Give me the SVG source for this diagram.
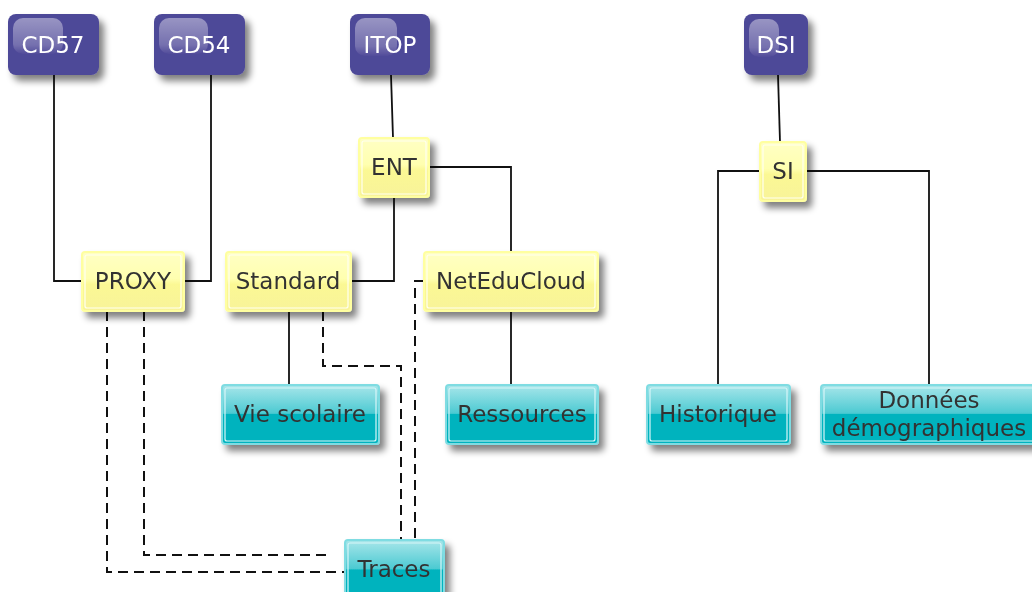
<svg xmlns="http://www.w3.org/2000/svg" width="1032" height="592" viewBox="0 0 1032 592">
<defs>
<filter id="sh" x="-20%" y="-20%" width="150%" height="160%">
<feGaussianBlur in="SourceAlpha" stdDeviation="3.5"/>
<feOffset dx="5" dy="6" result="b"/>
<feComponentTransfer><feFuncA type="linear" slope="0.5"/></feComponentTransfer>
<feMerge><feMergeNode/><feMergeNode in="SourceGraphic"/></feMerge>
</filter>
<linearGradient id="gy" x1="0" y1="0" x2="0" y2="1">
<stop offset="0" stop-color="#FFFFC4"/>
<stop offset="0.45" stop-color="#FFFFB0"/>
<stop offset="0.55" stop-color="#FBF894"/>
<stop offset="1" stop-color="#F8F39A"/>
</linearGradient>
<linearGradient id="gt" x1="0" y1="0" x2="0" y2="1">
<stop offset="0" stop-color="#A8E6EA"/>
<stop offset="0.48" stop-color="#4CCAD2"/>
<stop offset="0.5" stop-color="#00B3BE"/>
<stop offset="1" stop-color="#00B3BE"/>
</linearGradient>
<linearGradient id="gh" x1="0" y1="0" x2="0" y2="1">
<stop offset="0" stop-color="#FFFFFF" stop-opacity="0.42"/>
<stop offset="0.75" stop-color="#FFFFFF" stop-opacity="0.22"/>
<stop offset="1" stop-color="#FFFFFF" stop-opacity="0.02"/>
</linearGradient>
</defs>
<style>
.p{fill:#4E4898;}
.ph{fill:url(#gh);}
.y{fill:url(#gy);stroke:#FFFFA0;stroke-width:2;}
.yi{fill:none;stroke:#FFFFF0;stroke-width:1.2;}
.t{fill:url(#gt);stroke:#7FDCE2;stroke-width:2;}
.ti{fill:none;stroke:#D8F6F8;stroke-width:1.2;}
text{font-family:"DejaVu Sans",sans-serif;font-size:23px;text-anchor:middle;}
.w{fill:#FFFFFF;}
.d{fill:#333333;}
.c{fill:none;stroke:#111;stroke-width:1.8;}
.dash{fill:none;stroke:#111;stroke-width:2;stroke-dasharray:10,6;}
</style>
<rect width="1032" height="592" fill="#FFFFFF"/>
<g id="connectors">
<path class="c" d="M54,75 V281 H82"/>
<path class="c" d="M211,75 V281 H184"/>
<path class="c" d="M391,75 L393,138"/>
<path class="c" d="M429,167 H511 V252"/>
<path class="c" d="M394,197 V281 H351"/>
<path class="c" d="M289,311 V385"/>
<path class="c" d="M511,311 V385"/>
<path class="c" d="M778,75 L780,142"/>
<path class="c" d="M760,171 H718 V385"/>
<path class="c" d="M806,171 H929 V385"/>
<path class="dash" d="M107,311 V572 H345"/>
<path class="dash" d="M144,311 V555 H330"/>
<path class="dash" d="M323,311 V366 H401 V540"/>
<path class="dash" d="M424,281 H415 V540"/>
</g>
<g id="CD57" filter="url(#sh)">
<rect class="p" x="8" y="14" width="91" height="61" rx="8"/>
<rect class="ph" x="13" y="18" width="50" height="36" rx="10"/>
<text class="w" x="53" y="53">CD57</text>
</g>
<g id="CD54" filter="url(#sh)">
<rect class="p" x="154" y="14" width="91" height="61" rx="8"/>
<rect class="ph" x="159" y="18" width="49" height="36" rx="10"/>
<text class="w" x="199" y="53">CD54</text>
</g>
<g id="ITOP" filter="url(#sh)">
<rect class="p" x="350" y="14" width="80" height="61" rx="8"/>
<rect class="ph" x="355" y="18" width="42" height="38" rx="10"/>
<text class="w" x="390" y="53">ITOP</text>
</g>
<g id="DSI" filter="url(#sh)">
<rect class="p" x="744" y="14" width="64" height="61" rx="8"/>
<rect class="ph" x="749" y="19" width="30" height="38" rx="10"/>
<text class="w" x="776" y="53">DSI</text>
</g>
<g id="ENT" filter="url(#sh)">
<rect class="y" x="359" y="138" width="70" height="59" rx="3"/>
<rect class="yi" x="362" y="141" width="64" height="53" rx="2"/>
<text class="d" x="394" y="175">ENT</text>
</g>
<g id="SI" filter="url(#sh)">
<rect class="y" x="760" y="142" width="46" height="59" rx="3"/>
<rect class="yi" x="763" y="145" width="40" height="53" rx="2"/>
<text class="d" x="783" y="179">SI</text>
</g>
<g id="PROXY" filter="url(#sh)">
<rect class="y" x="82" y="252" width="102" height="59" rx="3"/>
<rect class="yi" x="85" y="255" width="96" height="53" rx="2"/>
<text class="d" x="133" y="289">PROXY</text>
</g>
<g id="Standard" filter="url(#sh)">
<rect class="y" x="226" y="252" width="125" height="59" rx="3"/>
<rect class="yi" x="229" y="255" width="119" height="53" rx="2"/>
<text class="d" x="288" y="289">Standard</text>
</g>
<g id="NetEduCloud" filter="url(#sh)">
<rect class="y" x="424" y="252" width="174" height="59" rx="3"/>
<rect class="yi" x="427" y="255" width="168" height="53" rx="2"/>
<text class="d" x="511" y="289">NetEduCloud</text>
</g>
<g id="VieScolaire" filter="url(#sh)">
<rect class="t" x="222" y="385" width="157" height="59" rx="3"/>
<rect class="ti" x="225" y="388" width="151" height="53" rx="2"/>
<text class="d" x="300" y="422">Vie scolaire</text>
</g>
<g id="Ressources" filter="url(#sh)">
<rect class="t" x="446" y="385" width="152" height="59" rx="3"/>
<rect class="ti" x="449" y="388" width="146" height="53" rx="2"/>
<text class="d" x="522" y="422">Ressources</text>
</g>
<g id="Historique" filter="url(#sh)">
<rect class="t" x="647" y="385" width="143" height="59" rx="3"/>
<rect class="ti" x="650" y="388" width="137" height="53" rx="2"/>
<text class="d" x="718" y="422">Historique</text>
</g>
<g id="DonneesDemographiques" filter="url(#sh)">
<rect class="t" x="821" y="385" width="222" height="59" rx="3"/>
<rect class="ti" x="824" y="388" width="216" height="53" rx="2"/>
<text class="d" x="929" y="408">Données</text>
<text class="d" x="929" y="436">démographiques</text>
</g>
<g id="Traces" filter="url(#sh)">
<rect class="t" x="345" y="540" width="99" height="60" rx="3"/>
<rect class="ti" x="348" y="543" width="93" height="54" rx="2"/>
<text class="d" x="394" y="577">Traces</text>
</g>
</svg>
